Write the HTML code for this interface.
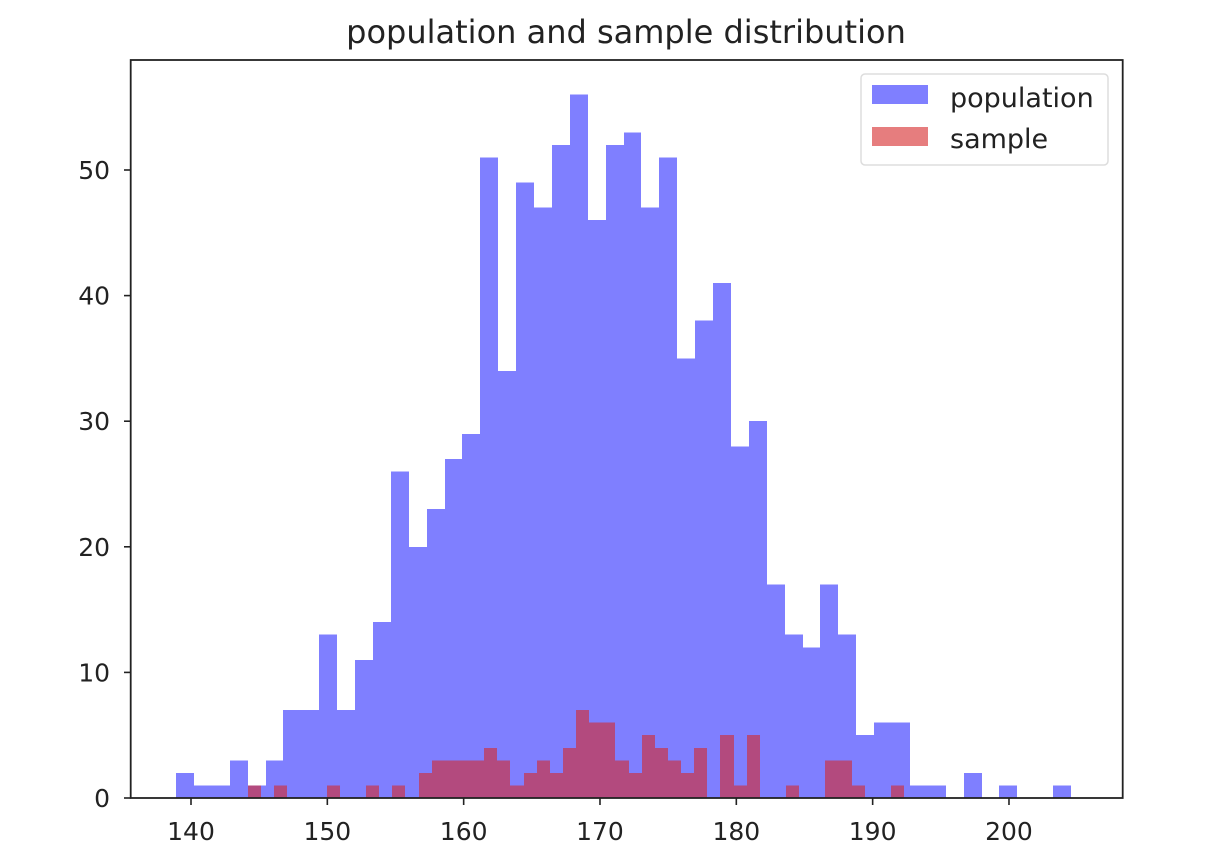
<!DOCTYPE html>
<html><head><meta charset="utf-8"><style>
html,body{margin:0;padding:0;background:#fff;}
svg{display:block;font-family:"DejaVu Sans","Liberation Sans",sans-serif;}
</style></head><body>
<svg id="chart" width="1216" height="864">
<text x="626" y="43" font-size="32" text-anchor="middle" fill="#222">population and sample distribution</text>
<g id="bars" shape-rendering="crispEdges"></g>
<rect x="130.7" y="60" width="992" height="738" fill="none" stroke="#222" stroke-width="1.8"/>
<g id="ticks"></g>
<g>
<rect x="861" y="74" width="247" height="91" rx="4" fill="#fff" fill-opacity="0.8" stroke="#ddd" stroke-width="1.5"/>
<rect x="872" y="85" width="56" height="19" fill="#0000ff" fill-opacity="0.5"/>
<text x="950" y="107" font-size="27" fill="#222">population</text>
<rect x="872" y="127" width="56" height="19" fill="#d62728" fill-opacity="0.6"/>
<text x="950" y="148" font-size="27" fill="#222">sample</text>
</g>
</svg>
<script>
const popStart = 138.9;
const popWidth = 1.313;
const popCounts = [2,1,1,3,1,3,7,7,13,7,11,14,26,20,23,27,29,51,34,49,47,52,56,46,52,53,47,51,35,38,41,28,30,17,13,12,17,13,5,6,6,1,1,0,2,0,1,0,0,1];
const sampleStart = 144.18;
const sampleWidth = 0.9626;
const sampleCounts = [1,0,1,0,0,0,1,0,0,1,0,1,0,2,3,3,3,3,4,3,1,2,3,2,4,7,6,6,3,2,5,4,3,2,4,0,5,1,5,0,0,1,0,0,3,3,1,0,0,1];
const xTicks = [140,150,160,170,180,190,200];
const yTicks = [0,10,20,30,40,50];

const NS = "http://www.w3.org/2000/svg";
function xs(v){ return 191 + (v - 140) * 13.633; }
function ys(v){ return 798 - v * 12.56; }
const bars = document.getElementById('bars');
function drawHist(start, width, counts, color, op, name){
  counts.forEach((c, i) => {
    if (c <= 0) return;
    const x0 = Math.round(xs(start + i * width)), x1 = Math.round(xs(start + (i + 1) * width));
    const r = document.createElementNS(NS, 'rect');
    r.setAttribute('x', x0); r.setAttribute('width', x1 - x0);
    r.setAttribute('y', ys(c)); r.setAttribute('height', ys(0) - ys(c));
    r.setAttribute('fill', color); r.setAttribute('fill-opacity', op);
    
    
    bars.appendChild(r);
  });
}
drawHist(popStart, popWidth, popCounts, '#0000ff', 0.5, 'population');
drawHist(sampleStart, sampleWidth, sampleCounts, '#d62728', 0.6, 'sample');

const tg = document.getElementById('ticks');
xTicks.forEach(v => {
  const l = document.createElementNS(NS, 'line');
  l.setAttribute('x1', xs(v)); l.setAttribute('x2', xs(v));
  l.setAttribute('y1', 798); l.setAttribute('y2', 805);
  l.setAttribute('stroke', '#222'); l.setAttribute('stroke-width', 1.6);
  
  
  tg.appendChild(l);
  const t = document.createElementNS(NS, 'text');
  t.setAttribute('x', xs(v)); t.setAttribute('y', 840);
  t.setAttribute('font-size', 25); t.setAttribute('text-anchor', 'middle'); t.setAttribute('fill', '#222');
  t.textContent = v;
  
  
  tg.appendChild(t);
});
yTicks.forEach(v => {
  const l = document.createElementNS(NS, 'line');
  l.setAttribute('x1', 124); l.setAttribute('x2', 130.7);
  l.setAttribute('y1', ys(v)); l.setAttribute('y2', ys(v));
  l.setAttribute('stroke', '#222'); l.setAttribute('stroke-width', 1.6);
  
  
  tg.appendChild(l);
  const t = document.createElementNS(NS, 'text');
  t.setAttribute('x', 110); t.setAttribute('y', ys(v) + 9);
  t.setAttribute('font-size', 25); t.setAttribute('text-anchor', 'end'); t.setAttribute('fill', '#222');
  t.textContent = v;
  
  
  tg.appendChild(t);
});
</script>
</body></html>
